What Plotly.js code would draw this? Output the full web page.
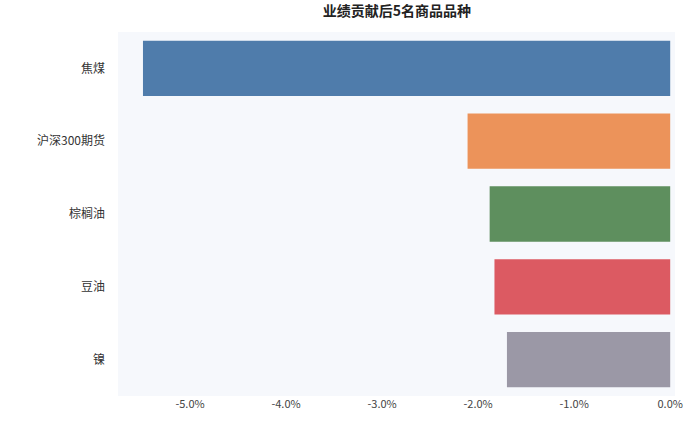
<!DOCTYPE html>
<html><head><meta charset="utf-8">
<script src="https://cdn.plot.ly/plotly-3.0.1.min.js"></script>
<style>html,body{margin:0;padding:0;background:#fff;}#chart{width:700px;height:429px;}</style>
</head><body><div id="chart"></div>
<script>
const categories = ["焦煤", "沪深300期货", "棕榈油", "豆油", "镍"];
const values = [-0.0549, -0.0211, -0.0188, -0.0183, -0.0170];
const colors = ["#4f7cab", "#ec935a", "#5e8f5e", "#dc5a62", "#9b98a6"];
const tickVals = [-0.05, -0.04, -0.03, -0.02, -0.01, 0];
const tickText = ["-5.0%", "-4.0%", "-3.0%", "-2.0%", "-1.0%", "0.0%"];

const trace = {
  type: "bar", orientation: "h",
  x: values, y: categories,
  marker: {color: colors, line: {width: 0}},
  hoverinfo: "x+y"
};
const layout = {
  width: 700, height: 429,
  margin: {l: 118, r: 25, t: 32, b: 33},
  paper_bgcolor: "#ffffff", plot_bgcolor: "#f6f8fc",
  title: {text: "<b>业绩贡献后5名商品品种</b>", x: 0.567, xanchor: "center", y: 0.985, yanchor: "top",
          font: {family: "Noto Sans CJK SC", size: 14, color: "#222"}},
  bargap: 0.24,
  showlegend: false,
  font: {family: "Noto Sans CJK SC, DejaVu Sans", color: "#333"},
  xaxis: {range: [-0.0575, 0.0005], tickvals: tickVals, ticktext: tickText,
          showgrid: false, zeroline: false, showline: false, ticks: "",
          tickfont: {size: 11, color: "#444"}, automargin: false},
  yaxis: {autorange: "reversed", showgrid: false, zeroline: false, showline: false,
          ticks: "", ticklen: 0, ticklabelstandoff: 12, tickfont: {size: 12, color: "#333"}, automargin: false}
};
Plotly.newPlot("chart", [trace], layout, {displayModeBar: false, staticPlot: true});
</script></body></html>
